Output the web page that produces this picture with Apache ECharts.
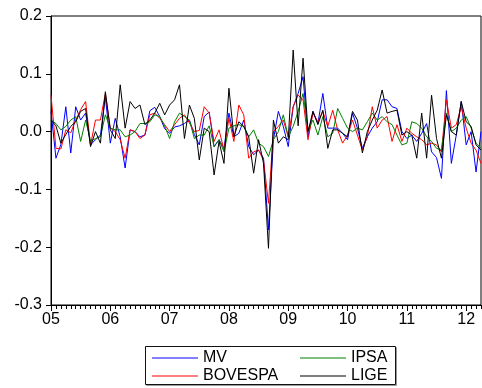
<!DOCTYPE html>
<html>
<head>
<meta charset="utf-8">
<script src="https://cdn.jsdelivr.net/npm/echarts@6/dist/echarts.min.js"></script>
<style>
html,body{margin:0;padding:0;background:#fff;}
#c{width:482px;height:388px;}
</style>
</head>
<body>
<div id="c"></div>
<script>
// Monthly categories 2005M01 .. 2012M04
const categories = [];
for (let y = 2005; y <= 2012; y++) {
  for (let m = 1; m <= 12; m++) {
    if (categories.length < 88) categories.push(y + 'M' + (m < 10 ? '0' + m : m));
  }
}
const yTicks = [-0.3, -0.2, -0.1, 0.0, 0.1, 0.2];

const MV = [0.035,-0.046,-0.022,0.043,-0.037,0.043,0.02,0.032,-0.023,-0.014,
  -0.006,0.06,-0.02,0.023,-0.009,-0.063,0.003,0.0,-0.009,-0.006,
  0.036,0.042,0.026,0.005,-0.003,0.008,0.01,0.014,0.02,-0.005,
  -0.023,0.026,0.034,-0.026,-0.014,-0.029,0.032,-0.009,-0.003,0.02,
  -0.026,-0.04,-0.032,-0.046,-0.17,-0.014,0.035,0.009,-0.026,0.043,
  0.066,0.095,-0.009,0.035,0.014,0.066,0.006,0.006,0.006,-0.003,
  -0.014,0.032,0.006,-0.029,-0.009,0.006,0.017,0.055,0.055,0.043,
  0.04,0.0,-0.012,-0.006,-0.017,-0.003,0.014,-0.035,-0.045,-0.081,
  0.071,-0.055,-0.006,0.052,-0.023,0.0,-0.07,0.0];
const BOVESPA = [0.063,-0.029,-0.03,0.003,-0.002,0.02,0.038,0.052,-0.023,0.02,
  0.02,0.066,0.006,0.0,-0.014,-0.046,0.003,0.0,-0.012,-0.006,
  0.029,0.032,0.023,0.012,0.0,0.012,0.023,0.029,0.015,0.0,
  0.002,0.043,0.032,-0.017,0.003,-0.032,0.023,-0.017,0.046,0.029,
  -0.046,-0.035,-0.032,-0.049,-0.124,0.0,0.009,0.02,-0.009,0.043,
  0.063,0.055,-0.014,0.032,0.017,0.035,0.009,0.037,0.003,-0.02,
  -0.006,0.02,-0.006,-0.032,-0.009,0.043,0.006,0.02,0.026,-0.017,
  0.012,-0.017,0.006,-0.003,-0.009,-0.014,-0.023,-0.02,-0.023,-0.035,
  0.055,0.006,0.012,0.043,0.006,-0.02,-0.032,-0.055];
const IPSA = [0.02,0.014,0.003,0.009,0.02,0.026,-0.017,0.02,-0.017,-0.012,
  -0.009,0.029,0.006,0.003,0.003,-0.009,-0.006,0.0,0.014,0.014,
  0.017,0.029,0.026,0.01,-0.012,0.017,0.032,0.026,0.02,-0.012,
  -0.006,-0.006,0.01,-0.026,-0.014,-0.035,0.006,0.01,0.012,0.009,
  -0.009,0.003,-0.02,-0.026,-0.043,-0.014,0.0,0.029,-0.009,0.009,
  0.035,0.066,0.003,0.02,-0.006,0.026,-0.009,-0.003,0.04,0.023,
  0.006,0.0,0.006,0.003,0.017,0.032,0.02,0.026,0.017,0.012,
  -0.006,-0.023,-0.02,0.017,0.014,0.006,-0.009,-0.017,-0.029,-0.032,
  0.032,0.0,0.006,0.02,0.026,0.006,-0.02,-0.029];
const LIGE = [0.02,0.01,-0.02,-0.005,0.009,0.017,0.035,0.04,-0.026,0.0,
  -0.02,0.069,0.003,-0.012,0.081,0.006,0.052,0.04,0.046,0.012,
  0.02,0.032,0.049,0.029,0.046,0.055,0.081,-0.012,0.046,0.023,
  -0.049,0.006,0.0,-0.075,-0.017,-0.055,0.075,-0.009,0.017,0.009,
  -0.009,-0.072,-0.014,-0.055,-0.202,0.02,-0.02,-0.009,-0.014,0.141,
  0.01,0.127,0.0,0.035,0.012,0.037,-0.029,0.003,0.003,-0.003,
  -0.009,0.035,0.02,-0.037,0.0,0.02,0.037,0.072,0.032,0.035,
  0.037,-0.006,0.0,-0.006,-0.046,0.032,-0.046,0.063,-0.012,-0.046,
  0.029,0.0,-0.006,0.052,0.017,0.009,-0.023,-0.032];

const FONT = '"Liberation Sans", Arial, sans-serif';
const chart = echarts.init(document.getElementById('c'), null, {renderer: 'canvas'});

function mkSeries(name, data, color) {
  return {
    name: name, type: 'line', data: data, xAxisIndex: 0, yAxisIndex: 0,
    symbol: 'none', showSymbol: false, animation: false,
    lineStyle: {color: color, width: 1}, itemStyle: {color: color}
  };
}

chart.setOption({
  animation: false,
  backgroundColor: '#fff',
  grid: {left: 51, right: 1, top: 16, bottom: 83, show: true, borderColor: '#000', borderWidth: 1, backgroundColor: 'transparent'},
  xAxis: [
    {
      type: 'category', data: categories, boundaryGap: false,
      axisLine: {onZero: false, lineStyle: {color: '#000', width: 1}},
      axisTick: {show: true, interval: 0, length: 4, inside: false, lineStyle: {color: '#000'}},
      axisLabel: {show: false},
      splitLine: {show: false}
    },
    {
      type: 'category', data: categories, boundaryGap: false, position: 'bottom',
      axisLine: {show: false, onZero: false},
      axisTick: {show: true, length: 6, interval: function (i) { return i % 12 === 0; }, lineStyle: {color: '#000'}},
      axisLabel: {
        show: true, interval: function (i) { return i % 12 === 0; },
        formatter: function (v) { return v.slice(2, 4); },
        color: '#000', fontFamily: FONT, fontSize: 16, margin: 7
      },
      splitLine: {show: false}
    }
  ],
  yAxis: {
    type: 'value', min: yTicks[0], max: yTicks[yTicks.length - 1], interval: 0.1,
    axisLine: {show: true, onZero: false, lineStyle: {color: '#000', width: 1}},
    axisTick: {show: true, length: 5, lineStyle: {color: '#000'}},
    axisLabel: {color: '#000', fontFamily: FONT, fontSize: 16, margin: 9,
      formatter: function (v) { return (Math.abs(v) < 1e-9 ? 0 : v).toFixed(1); }},
    splitLine: {show: false}
  },
  legend: [
    {
      data: ['MV', 'BOVESPA'], orient: 'vertical', left: 152, top: 349, padding: 0,
      itemGap: 0, itemWidth: 46, itemHeight: 1, icon: 'rect',
      textStyle: {color: '#000', fontFamily: FONT, fontSize: 16, lineHeight: 18}
    },
    {
      data: ['IPSA', 'LIGE'], orient: 'vertical', left: 300, top: 349, padding: 0,
      itemGap: 0, itemWidth: 46, itemHeight: 1, icon: 'rect',
      textStyle: {color: '#000', fontFamily: FONT, fontSize: 16, lineHeight: 18}
    }
  ],
  graphic: [
    {type: 'rect', shape: {x: 146.5, y: 347.5, width: 250, height: 38}, style: {fill: 'none', stroke: '#999', lineWidth: 1}, z: 0},
    {type: 'rect', shape: {x: 145.5, y: 346.5, width: 250, height: 38}, style: {fill: '#fff', stroke: '#111', lineWidth: 1}, z: 0}
  ],
  series: [
    mkSeries('MV', MV, '#0000ff'),
    mkSeries('BOVESPA', BOVESPA, '#ff0000'),
    mkSeries('IPSA', IPSA, '#008000'),
    mkSeries('LIGE', LIGE, '#000000')
  ]
});
</script>
</body>
</html>
